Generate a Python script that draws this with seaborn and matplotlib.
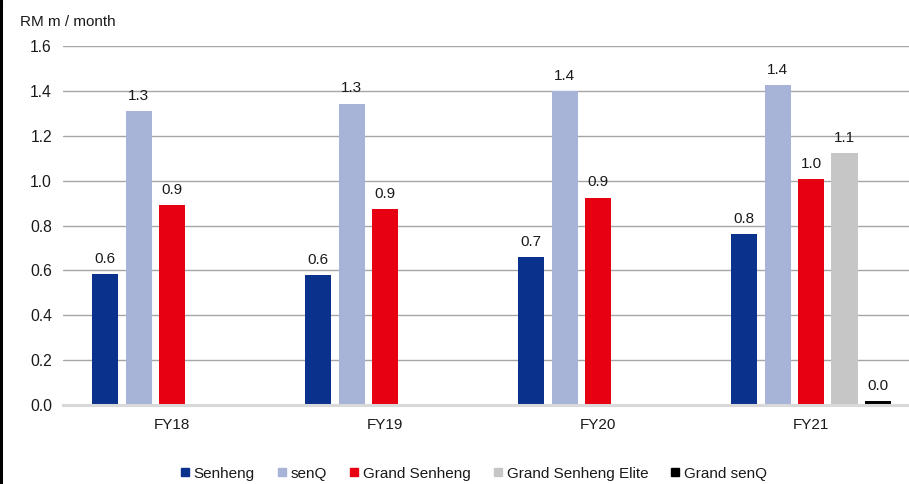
import matplotlib
matplotlib.use("Agg")
import matplotlib.pyplot as plt
from matplotlib.lines import Line2D
import seaborn as sns
import pandas as pd

# Monthly revenue per store, RM million
years = ["FY18", "FY19", "FY20", "FY21"]
brands = ["Senheng", "senQ", "Grand Senheng", "Grand Senheng Elite", "Grand senQ"]
senheng = [0.584, 0.580, 0.658, 0.762]
senq = [1.311, 1.343, 1.399, 1.426]
grand_senheng = [0.891, 0.872, 0.924, 1.007]
grand_senheng_elite = [None, None, None, 1.123]
grand_senq = [None, None, None, 0.018]
colors = ["#0A318C", "#A7B4D8", "#E60012", "#C6C6C6", "#000000"]

rows = []
for brand, vals in zip(brands, [senheng, senq, grand_senheng, grand_senheng_elite, grand_senq]):
    for yr, v in zip(years, vals):
        if v is not None:
            rows.append({"year": yr, "brand": brand, "value": v})
df = pd.DataFrame(rows)

sns.set_theme(style="white")
plt.rcParams["font.family"] = ["Liberation Sans", "DejaVu Sans"]

fig = plt.figure(figsize=(9.09, 4.84), dpi=100)
ax = fig.add_axes([0.0693, 0.1632, 0.9307, 0.7417])

sns.barplot(data=df, x="year", y="value", hue="brand", order=years,
            hue_order=brands, palette=colors, width=0.785, gap=0.22,
            saturation=1, legend=False, ax=ax, linewidth=0)

for cont in ax.containers:
    ax.bar_label(cont, fmt="%.1f", padding=6, fontsize=11, color="#1a1a1a")

ax.set_ylim(0, 1.6)
ax.set_xlim(-0.512, 3.46)
ax.set_yticks([0, 0.2, 0.4, 0.6, 0.8, 1.0, 1.2, 1.4, 1.6])
ax.set_yticklabels([f"{t:.1f}" for t in ax.get_yticks()])
ax.yaxis.grid(True, color="#A6A6A6", linewidth=1.0)
ax.set_axisbelow(True)
for s in ["top", "right", "left"]:
    ax.spines[s].set_visible(False)
ax.spines["bottom"].set_color("#D9D9D9")
ax.spines["bottom"].set_linewidth(2.2)
ax.tick_params(axis="y", length=0, pad=8, labelsize=11.3, labelcolor="#1a1a1a")
ax.tick_params(axis="x", length=0, pad=9, labelsize=11, labelcolor="#1a1a1a")
ax.set_xlabel("")
ax.set_ylabel("")

fig.text(0.022, 0.955, "RM m / month", fontsize=11, color="#1a1a1a",
         ha="left", va="center")

handles = [Line2D([0], [0], marker="s", linestyle="none", markersize=6,
                  markerfacecolor=c, markeredgecolor=c) for c in colors]
fig.legend(handles, brands, loc="center", bbox_to_anchor=(0.521, 0.021),
           ncol=5, frameon=False, fontsize=11, handlelength=0.6,
           handletextpad=0.3, columnspacing=1.45, labelcolor="#1a1a1a",
           borderpad=0.0)

# black frame edge along the left side
fig.add_artist(Line2D([0.0012, 0.0012], [0, 1], transform=fig.transFigure,
                      color="black", linewidth=2.2))

fig.savefig("out.png", dpi=100)
